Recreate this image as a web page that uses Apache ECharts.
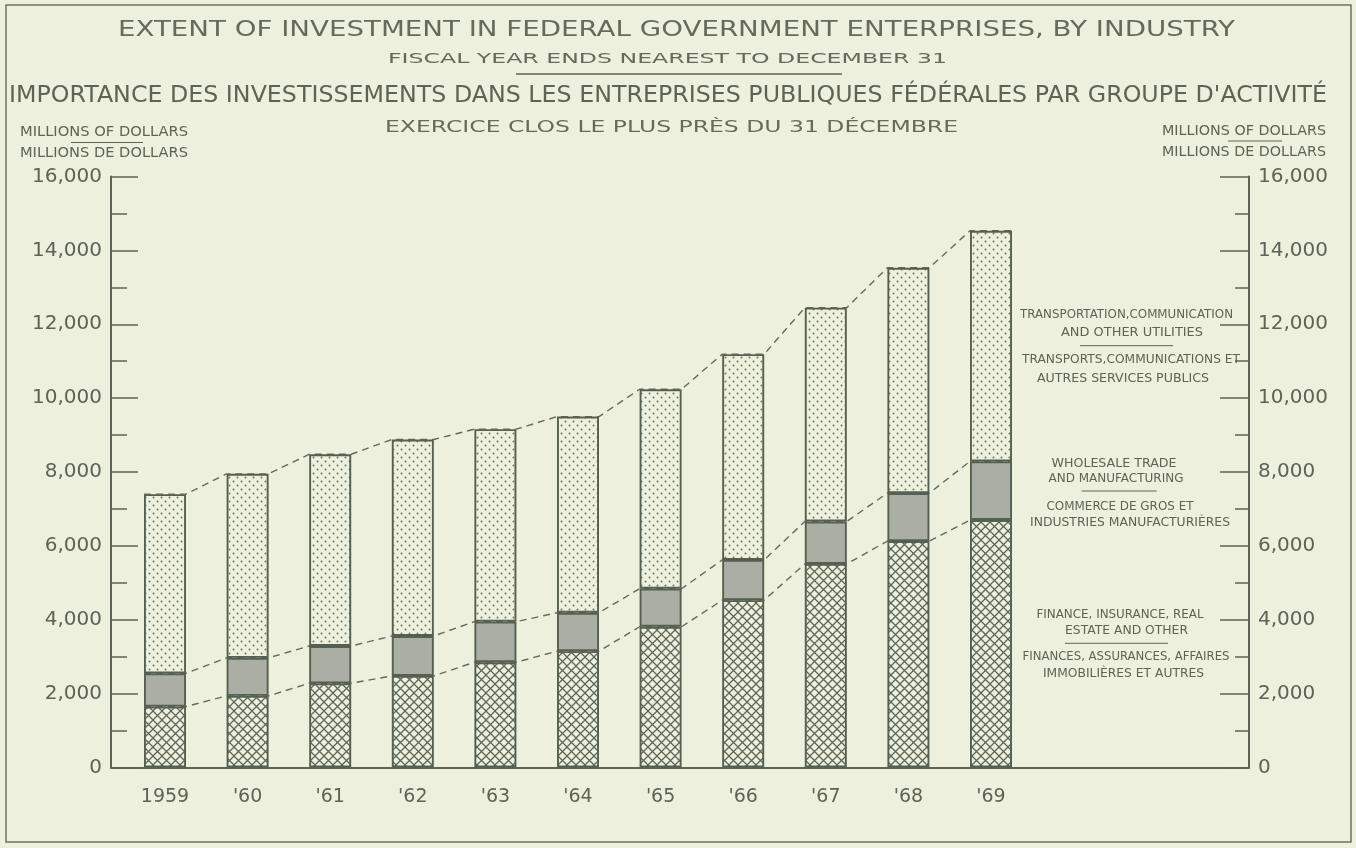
<!DOCTYPE html>
<html>
<head>
<meta charset="utf-8">
<script src="https://cdn.jsdelivr.net/npm/echarts@6/dist/echarts.min.js"></script>
<style>
  html, body { margin: 0; padding: 0; background: #edf0dc; }
  #chart { width: 1356px; height: 848px; }
</style>
</head>
<body>
<div id="chart"></div>
<script>
// fiscal years (x axis labels)
const years = ['1959', "'60", "'61", "'62", "'63", "'64", "'65", "'66", "'67", "'68", "'69"]
// millions of dollars (stack order: bottom -> top)
const finance = [1650, 1940, 2280, 2480, 2850, 3150, 3810, 4530, 5510, 6130, 6700]
const wholesale = [900, 1030, 1010, 1080, 1100, 1040, 1030, 1090, 1150, 1300, 1590]
const transport = [4850, 4980, 5190, 5320, 5210, 5310, 5400, 5570, 5790, 6100, 6240]
const yTicks = [0, 2000, 4000, 6000, 8000, 10000, 12000, 14000, 16000]

const BG = '#edf0dc'
const INK = '#5b6457'
const FONT = '"DejaVu Sans"'

// pattern tiles
function dotTile () {
  const c = document.createElement('canvas')
  c.width = 8; c.height = 8
  const g = c.getContext('2d')
  g.fillStyle = BG; g.fillRect(0, 0, 8, 8)
  g.fillStyle = '#6c7468'
  g.beginPath(); g.arc(1.5, 1.5, 1.0, 0, Math.PI * 2); g.fill()
  g.beginPath(); g.arc(5.5, 5.5, 1.0, 0, Math.PI * 2); g.fill()
  return c
}
function hatchTile () {
  const c = document.createElement('canvas')
  c.width = 9; c.height = 9
  const g = c.getContext('2d')
  g.fillStyle = BG; g.fillRect(0, 0, 9, 9)
  g.strokeStyle = '#5c6558'; g.lineWidth = 1.25
  g.beginPath()
  g.moveTo(-1, -1); g.lineTo(10, 10)
  g.moveTo(10, -1); g.lineTo(-1, 10)
  g.stroke()
  return c
}

// text scaled to a given width (lettering of the original is condensed / extended)
const mctx = document.createElement('canvas').getContext('2d')
function fitText (text, cx, cy, size, width, color) {
  mctx.font = size + 'px ' + FONT
  const w = mctx.measureText(text).width
  return {
    type: 'text', x: cx, y: cy, scaleX: width / w, z: 10,
    style: {
      text: text, font: size + 'px ' + FONT, fontSize: size, fontFamily: FONT,
      fill: color || INK, textAlign: 'center', textVerticalAlign: 'middle',
      align: 'center', verticalAlign: 'middle'
    }
  }
}
function hline (x1, x2, y, w) {
  return { type: 'line', z: 10, shape: { x1: x1, y1: y, x2: x2, y2: y }, style: { stroke: INK, lineWidth: w || 1 } }
}

// stacked levels for the dashed connectors
const lvl1 = finance.slice()
const lvl2 = finance.map((v, i) => v + wholesale[i])
const lvl3 = lvl2.map((v, i) => v + transport[i])
const half = 0.254 // half bar width in category units
function connector (levels) {
  const pts = []
  levels.forEach((v, i) => { pts.push([i - half, v]); pts.push([i + half, v]) })
  return pts
}

const chart = echarts.init(document.getElementById('chart'))
const yFmt = v => v.toLocaleString('en-US')
const axisText = { color: INK, fontSize: 20, fontFamily: FONT }

const dashed = levels => ({
  type: 'line', xAxisIndex: 2, yAxisIndex: 2, data: connector(levels),
  symbol: 'none', z: 1, silent: true,
  lineStyle: { color: '#626b5e', width: 1.4, type: [7, 5] }
})
const barStyle = fill => ({ color: fill, borderColor: '#566052', borderWidth: 1.9 })

const option = {
  backgroundColor: BG,
  animation: false,
  grid: [
    { left: 111, right: 107, top: 176.5, bottom: 80.5 },
    { left: 123.7, right: 323.7, top: 176.5, bottom: 80.5 }
  ],
  xAxis: [
    { gridIndex: 0, type: 'value', min: 0, max: 1, axisLine: { show: true, lineStyle: { color: INK, width: 2 } }, axisTick: { show: false }, axisLabel: { show: false }, splitLine: { show: false } },
    { gridIndex: 1, type: 'category', data: years, axisLine: { show: false }, axisTick: { show: false }, axisLabel: Object.assign({}, axisText, { margin: 20, fontSize: 19 }) },
    { gridIndex: 1, type: 'value', min: -0.5, max: years.length - 0.5, show: false }
  ],
  yAxis: [
    {
      gridIndex: 0, type: 'value', min: 0, max: 16000, interval: 2000, position: 'left',
      axisLine: { show: true, lineStyle: { color: INK, width: 2 } },
      axisTick: { show: true, inside: true, length: 27, lineStyle: { color: INK, width: 1.5 } },
      minorTick: { show: true, splitNumber: 2, length: 16, lineStyle: { color: INK, width: 1.5 } },
      axisLabel: Object.assign({ margin: 9, formatter: yFmt }, axisText),
      splitLine: { show: false }
    },
    {
      gridIndex: 0, type: 'value', min: 0, max: 16000, interval: 2000, position: 'right',
      axisLine: { show: true, lineStyle: { color: INK, width: 2 } },
      axisTick: { show: true, inside: true, length: 29, lineStyle: { color: INK, width: 1.5 } },
      minorTick: { show: true, splitNumber: 2, length: 14, lineStyle: { color: INK, width: 1.5 } },
      axisLabel: Object.assign({ margin: 9, formatter: yFmt }, axisText),
      splitLine: { show: false }
    },
    { gridIndex: 1, type: 'value', min: 0, max: 16000, show: false }
  ],
  series: [
    dashed(lvl1), dashed(lvl2), dashed(lvl3),
    { name: 'Finance', type: 'bar', stack: 'total', xAxisIndex: 1, yAxisIndex: 2, barWidth: 42, z: 2, data: finance, itemStyle: barStyle({ image: hatchTile(), repeat: 'repeat' }) },
    { name: 'Wholesale', type: 'bar', stack: 'total', xAxisIndex: 1, yAxisIndex: 2, barWidth: 42, z: 2, data: wholesale, itemStyle: barStyle('#abaea5') },
    { name: 'Transport', type: 'bar', stack: 'total', xAxisIndex: 1, yAxisIndex: 2, barWidth: 42, z: 2, data: transport, itemStyle: barStyle({ image: dotTile(), repeat: 'repeat' }) }
  ],
  graphic: [
    { type: 'rect', z: 10, shape: { x: 6, y: 5, width: 1345, height: 837 }, style: { fill: 'none', stroke: '#6a7366', lineWidth: 1.5 } },
    fitText('EXTENT OF INVESTMENT IN FEDERAL GOVERNMENT ENTERPRISES, BY INDUSTRY', 676.5, 31, 21, 1117, '#626b5e'),
    fitText('FISCAL YEAR ENDS NEAREST TO DECEMBER 31', 667.5, 59, 14.5, 559, '#626b5e'),
    hline(516, 842, 74, 1.5),
    fitText("IMPORTANCE DES INVESTISSEMENTS DANS LES ENTREPRISES PUBLIQUES FÉDÉRALES PAR GROUPE D'ACTIVITÉ", 668, 96, 23, 1318),
    fitText('EXERCICE CLOS LE PLUS PRÈS DU 31 DÉCEMBRE', 671.5, 128, 16, 573, '#626b5e'),
    fitText('MILLIONS OF DOLLARS', 104, 132, 13.5, 168),
    hline(71, 143, 142.5, 1),
    fitText('MILLIONS DE DOLLARS', 104, 153, 13.5, 168),
    fitText('MILLIONS OF DOLLARS', 1244, 131, 13.5, 164),
    hline(1228, 1282, 141, 1),
    fitText('MILLIONS DE DOLLARS', 1244, 152, 13.5, 164),
    // series labels beside the bars
    fitText('TRANSPORTATION,COMMUNICATION', 1126.5, 315, 13, 213),
    fitText('AND OTHER UTILITIES', 1132, 332.7, 13, 142),
    hline(1080, 1173, 345.7, 1),
    fitText('TRANSPORTS,COMMUNICATIONS ET', 1131, 360, 13, 218),
    fitText('AUTRES SERVICES PUBLICS', 1123, 378.3, 13, 172),
    fitText('WHOLESALE TRADE', 1114, 463.3, 13, 125),
    fitText('AND MANUFACTURING', 1116, 478.3, 13, 135),
    hline(1081.7, 1156.7, 491, 1),
    fitText('COMMERCE DE GROS ET', 1120, 506.7, 13, 147),
    fitText('INDUSTRIES MANUFACTURIÈRES', 1130, 522.3, 13, 200),
    fitText('FINANCE, INSURANCE, REAL', 1120, 614.3, 13, 167),
    fitText('ESTATE AND OTHER', 1126.5, 630.7, 13, 123),
    hline(1065, 1168, 643.3, 1),
    fitText('FINANCES, ASSURANCES, AFFAIRES', 1126, 656.7, 13, 207),
    fitText('IMMOBILIÈRES ET AUTRES', 1123.5, 673.3, 13, 161)
  ]
}
chart.setOption(option)
</script>
</body>
</html>
